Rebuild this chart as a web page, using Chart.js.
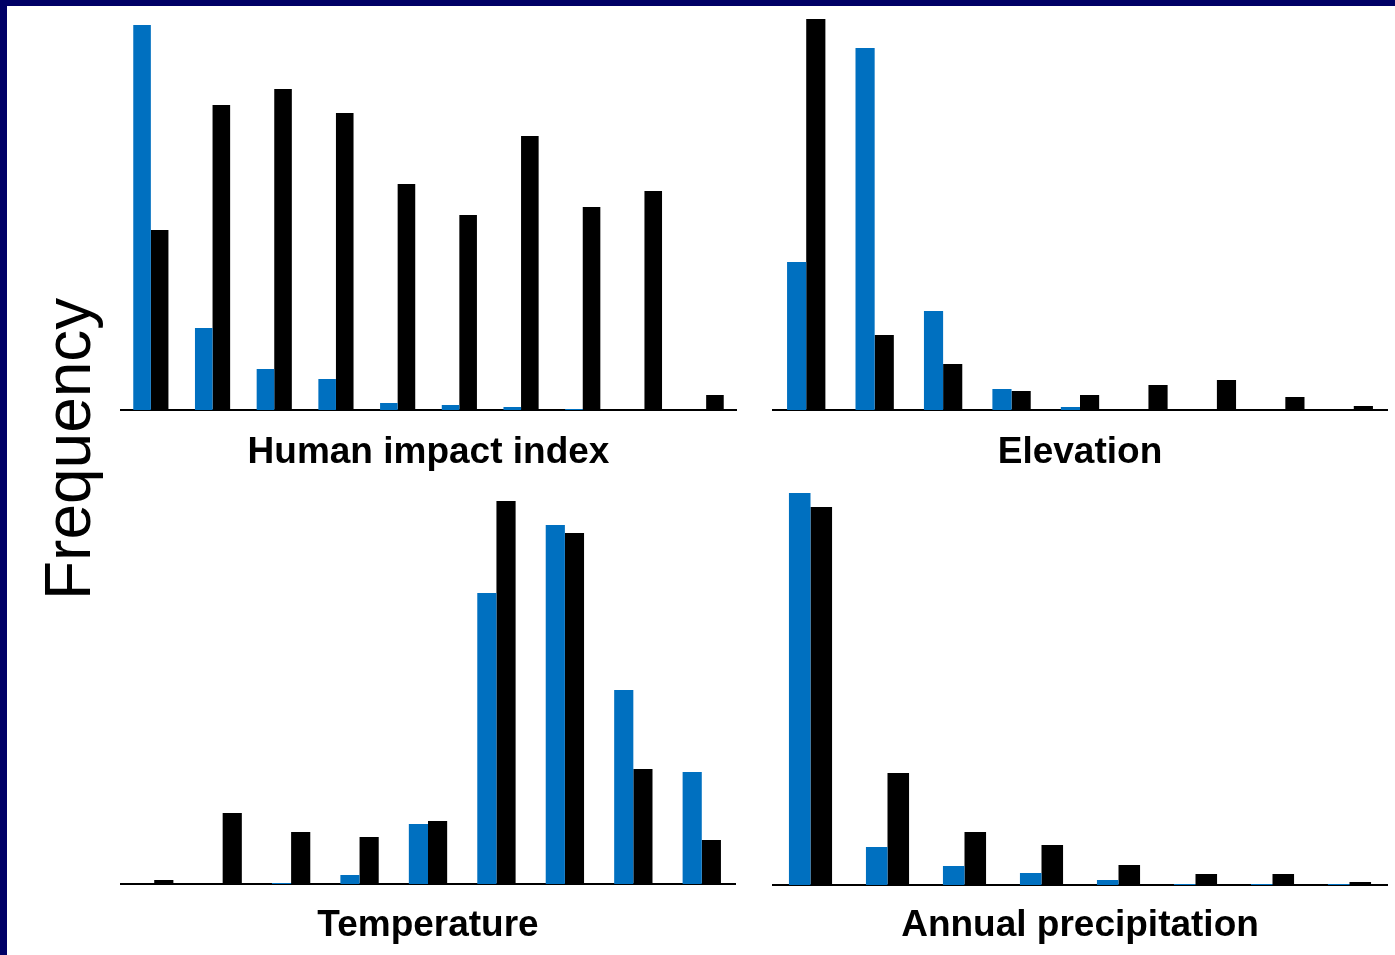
<!DOCTYPE html>
<html>
<head>
<meta charset="utf-8">
<title>Frequency distributions</title>
<script src="https://cdn.jsdelivr.net/npm/chart.js@4.4.0/dist/chart.umd.min.js"></script>
<style>
  html, body {
    margin: 0;
    padding: 0;
    background: #ffffff;
  }
  .frame {
    position: absolute;
    left: 0;
    top: 0;
    width: 1395px;
    height: 955px;
    box-sizing: border-box;
    border-top: 6px solid #000066;
    border-left: 7px solid #000066;
    overflow: hidden;
  }
  .panel {
    position: absolute;
  }
  .ylabel {
    position: absolute;
    left: 36px;
    top: 298px;
    height: 302px;
    width: 64px;
    line-height: 64px;
    font-family: "Liberation Sans", Arial, sans-serif;
    font-size: 64px;
    color: #000;
    writing-mode: vertical-rl;
    transform: rotate(180deg);
    text-align: center;
    white-space: nowrap;
  }
</style>
</head>
<body>
<div class="frame"></div>
<div class="ylabel">Frequency</div>
<div class="panel" style="left:120px; top:0px; width:617px; height:475px;"><canvas id="impactChart"></canvas></div>
<div class="panel" style="left:772px; top:0px; width:616px; height:475px;"><canvas id="elevationChart"></canvas></div>
<div class="panel" style="left:120px; top:474px; width:616px; height:474px;"><canvas id="tempChart"></canvas></div>
<div class="panel" style="left:772px; top:475px; width:616px; height:473px;"><canvas id="precipChart"></canvas></div>

<script>
// bins along each gradient (no tick labels are shown in the figure)
const impactBins = ['1', '2', '3', '4', '5', '6', '7', '8', '9', '10'];
const impactBlue = [385, 82, 41, 31, 7, 5, 3, 1, 0, 0];
const impactBlack = [180, 305, 321, 297, 226, 195, 274, 203, 219, 15];

const elevationBins = ['1', '2', '3', '4', '5', '6', '7', '8', '9'];
const elevationBlue = [148, 362, 99, 21, 3, 0, 0, 0, 0];
const elevationBlack = [391, 75, 46, 19, 15, 25, 30, 13, 4];

const tempBins = ['1', '2', '3', '4', '5', '6', '7', '8', '9'];
const tempBlue = [0, 0, 1, 9, 60, 291, 359, 194, 112];
const tempBlack = [4, 71, 52, 47, 63, 383, 351, 115, 44];

const precipBins = ['1', '2', '3', '4', '5', '6', '7', '8'];
const precipBlue = [392, 38, 19, 12, 5, 1, 1, 1];
const precipBlack = [378, 112, 53, 40, 20, 11, 11, 3];

const yMax = 400;

document.addEventListener('DOMContentLoaded', () => {
  makePanel('impactChart', impactBins, impactBlue, impactBlack, 'Human impact index', 21, 0.57);
  makePanel('elevationChart', elevationBins, elevationBlue, elevationBlack, 'Elevation', 21, 0.56);
  makePanel('tempChart', tempBins, tempBlue, tempBlack, 'Temperature', 20, 0.56);
  makePanel('precipChart', precipBins, precipBlue, precipBlack, 'Annual precipitation', 19, 0.56);
});

function makePanel(id, labels, blue, black, title, titleGap, catPct) {
  const ctx = document.getElementById(id).getContext('2d');

  new Chart(ctx, {
    type: 'bar',
    data: {
      labels: labels,
      datasets: [
        {
          label: 'Blue',
          data: blue,
          backgroundColor: '#0070C0',
          borderWidth: 0
        },
        {
          label: 'Black',
          data: black,
          backgroundColor: '#000000',
          borderWidth: 0
        }
      ]
    },
    options: {
      responsive: true,
      maintainAspectRatio: false,
      animation: false,
      layout: {
        padding: { top: 10, left: 0, right: 0, bottom: 0 }
      },
      datasets: {
        bar: {
          categoryPercentage: catPct,
          barPercentage: 1
        }
      },
      plugins: {
        legend: { display: false },
        tooltip: { enabled: false }
      },
      scales: {
        x: {
          grid: { display: false, drawTicks: false },
          border: { display: true, color: '#000000', width: 2 },
          ticks: { display: false },
          title: {
            display: true,
            text: title,
            color: '#000000',
            font: {
              family: '"Liberation Sans", Arial, sans-serif',
              size: 37,
              weight: 'bold',
              lineHeight: '44px'
            },
            padding: { top: titleGap, bottom: 0 }
          }
        },
        y: {
          display: false,
          min: 0,
          max: yMax
        }
      }
    }
  });
}
</script>
</body>
</html>
